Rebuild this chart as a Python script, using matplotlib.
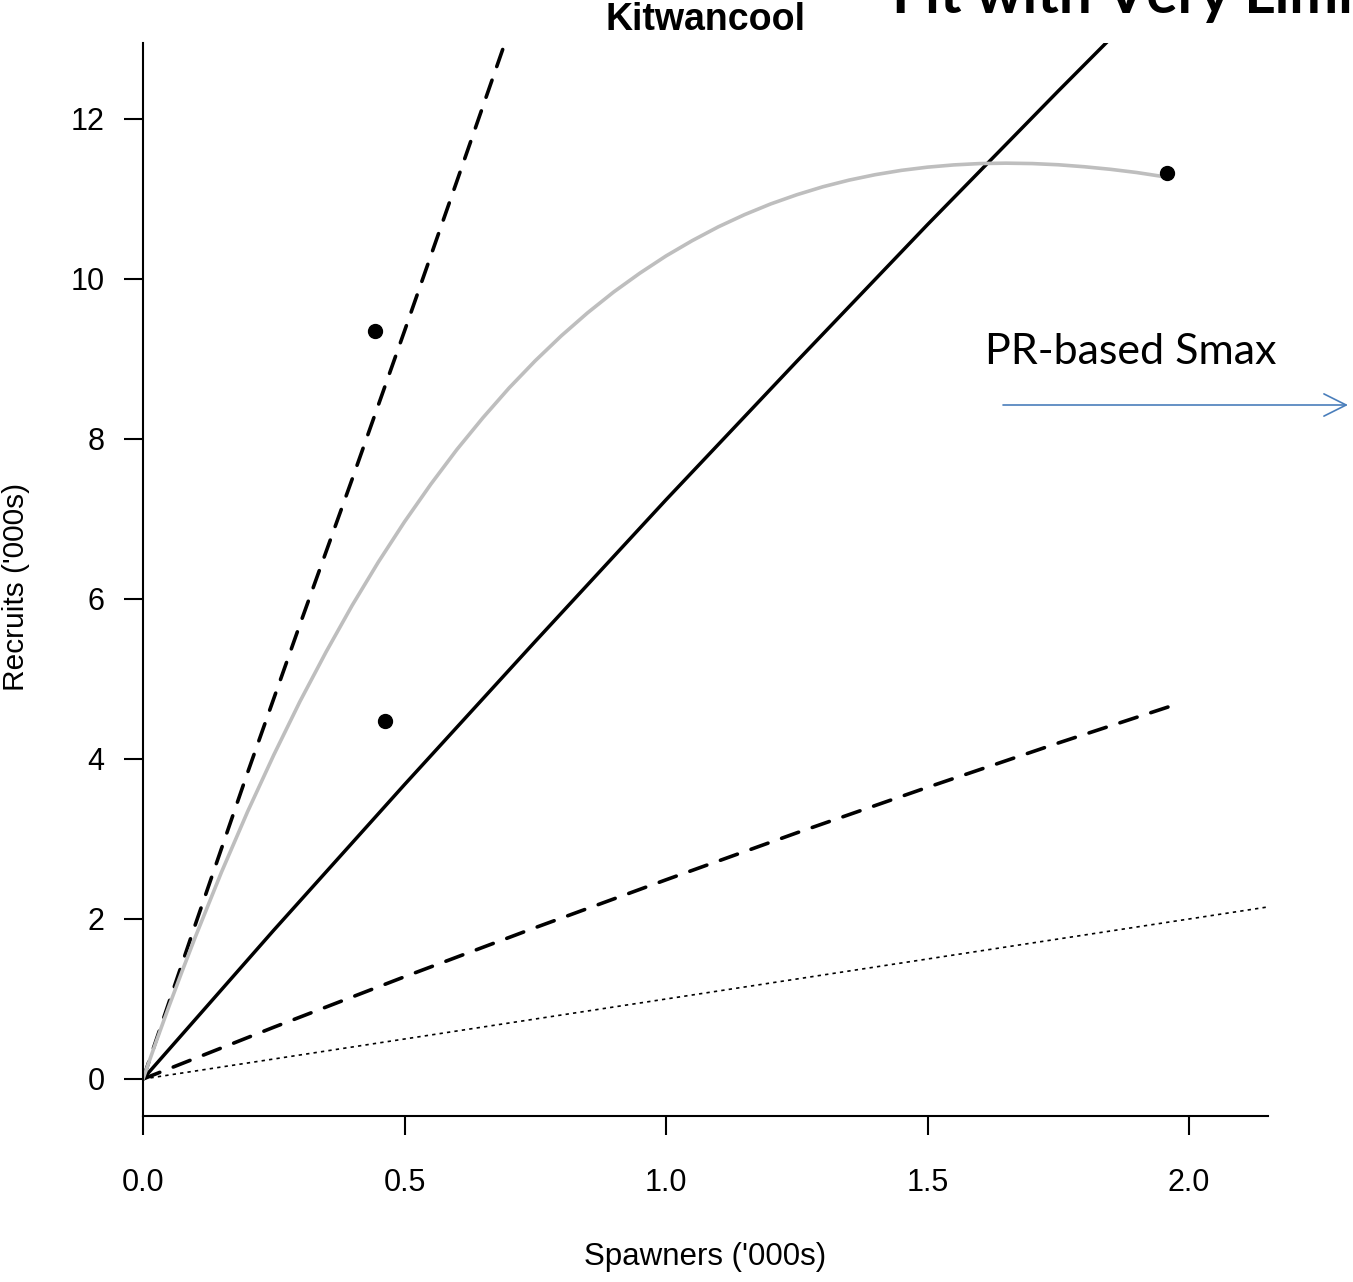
import matplotlib
matplotlib.use("Agg")
import matplotlib.pyplot as plt

# ---------------- data ----------------
obs_spawners = [0.444, 0.463, 1.958]
obs_recruits = [9.35, 4.475, 11.325]

ricker_S = [0.0, 0.025, 0.05, 0.075, 0.1, 0.15, 0.2, 0.25, 0.3, 0.35, 0.4,
            0.45, 0.5, 0.55, 0.6, 0.65, 0.7, 0.75, 0.8, 0.85, 0.9, 0.95, 1.0,
            1.05, 1.1, 1.15, 1.2, 1.25, 1.3, 1.35, 1.4, 1.45, 1.5, 1.55, 1.6,
            1.65, 1.7, 1.75, 1.8, 1.85, 1.9, 1.96]
ricker_R = [0.0, 0.464, 0.915, 1.351, 1.775, 2.585, 3.342, 4.050, 4.718,
            5.338, 5.921, 6.462, 6.965, 7.432, 7.867, 8.266, 8.638, 8.978,
            9.291, 9.577, 9.838, 10.073, 10.288, 10.479, 10.652, 10.804,
            10.938, 11.053, 11.153, 11.236, 11.304, 11.358, 11.398, 11.426,
            11.443, 11.448, 11.443, 11.428, 11.403, 11.371, 11.331, 11.271]

upper_S = [0.0, 0.1, 0.2, 0.3, 0.4, 0.5, 0.6, 0.7]
upper_R = [0.0, 1.93, 3.83, 5.68, 7.50, 9.35, 11.22, 13.10]

mid_S = [0.0, 0.25, 0.5, 0.75, 1.0, 1.25, 1.5, 1.75, 1.96]
mid_R = [0.0, 1.86, 3.68, 5.47, 7.24, 8.97, 10.68, 12.35, 13.73]

lower_S = [0.0, 0.25, 0.5, 0.75, 1.0, 1.25, 1.5, 1.75, 1.96]
lower_R = [0.0, 0.647, 1.278, 1.892, 2.49, 3.077, 3.646, 4.20, 4.65]

replace_S = [0.0, 2.15]
replace_R = [0.0, 2.15]

x_ticks = [0.0, 0.5, 1.0, 1.5, 2.0]
x_tick_labels = ["0.0", "0.5", "1.0", "1.5", "2.0"]
y_ticks = [0, 2, 4, 6, 8, 10, 12]
y_tick_labels = ["0", "2", "4", "6", "8", "10", "12"]

title = "Kitwancool"
slide_title = "Fit with Very Limited Data"
annot_text = "PR-based Smax"
x_label = "Spawners ('000s)"
y_label = "Recruits ('000s)"

# ---------------- figure ----------------
W, H = 1353, 1282
fig = plt.figure(figsize=(W / 100, H / 100), dpi=100)
plt.rcParams['font.family'] = ['Liberation Sans', 'DejaVu Sans']

ax = fig.add_axes([143 / W, (H - 1116) / H, (1268 - 143) / W, (1116 - 43) / H])
ax.set_xlim(0, 2.151)
ax.set_ylim(-0.4625, 12.95)

ax.plot(replace_S, replace_R, color='black', lw=1.2, linestyle=(0, (2.0, 2.5)))
ax.plot(lower_S, lower_R, color='black', lw=2.6, linestyle=(0, (5.0, 4.0)),
        dash_capstyle='round')
ax.plot(upper_S, upper_R, color='black', lw=2.6, linestyle=(0, (5.0, 4.0)),
        dash_capstyle='round')
ax.plot(mid_S, mid_R, color='black', lw=2.5, solid_capstyle='round')
ax.plot(ricker_S, ricker_R, color='#BEBEBE', lw=2.6, solid_capstyle='round')
ax.plot(obs_spawners, obs_recruits, 'o', color='black', markersize=10,
        linestyle='none', zorder=5)

for side in ['top', 'right']:
    ax.spines[side].set_visible(False)
for side in ['left', 'bottom']:
    ax.spines[side].set_linewidth(1.5)

ax.set_xticks(x_ticks)
ax.set_xticklabels(x_tick_labels)
ax.set_yticks(y_ticks)
ax.set_yticklabels(y_tick_labels)
ax.tick_params(axis='both', length=13.7, width=1.5, labelsize=22)
ax.tick_params(axis='y', pad=14)
ax.tick_params(axis='x', pad=24)

fig.text(705.5 / W, (H - 1257) / H, x_label, ha='center', va='center', fontsize=22.5)
fig.text(16 / W, (H - 587) / H, y_label, ha='center', va='center', fontsize=21.5,
         rotation=90)
fig.text(705 / W, (H - 20) / H, title, ha='center', va='center', fontsize=27,
         fontweight='bold')

fig.text(892 / W, (H - 13) / H, slide_title, ha='left', va='baseline',
         fontsize=42, fontweight='bold', family=['Lato', 'DejaVu Sans'])
fig.text(985 / W, (H - 352) / H, annot_text, ha='left', va='center',
         fontsize=31, family=['Lato', 'DejaVu Sans'])

ax.annotate('', xy=(1348, H - 405), xytext=(1003, H - 405),
            xycoords='figure pixels', textcoords='figure pixels',
            arrowprops=dict(arrowstyle='->,head_length=0.8,head_width=0.4',
                            color='#4A7EBB', lw=1.2, mutation_scale=20,
                            shrinkA=0, shrinkB=0),
            annotation_clip=False)

fig.savefig('out.png', dpi=100)
